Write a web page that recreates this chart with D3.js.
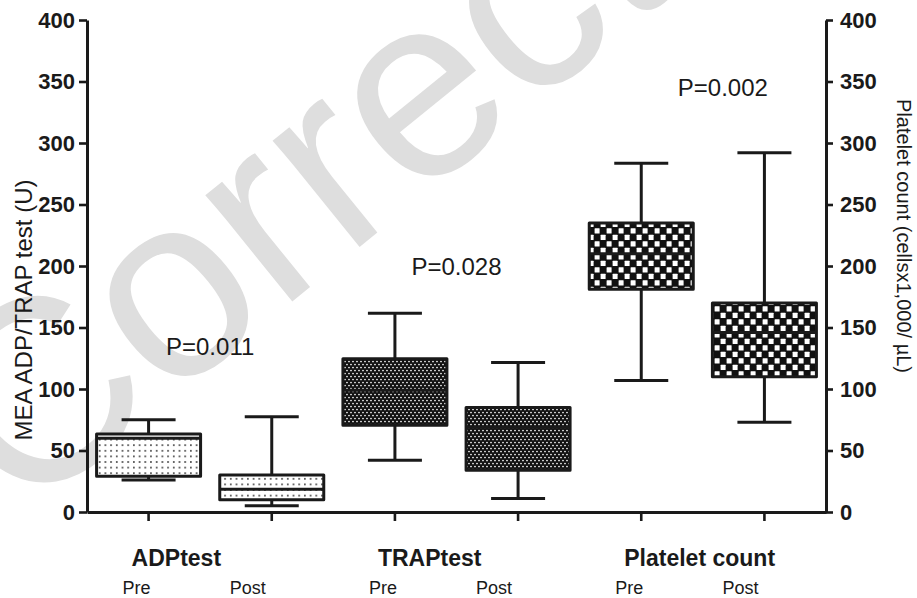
<!DOCTYPE html>
<html><head><meta charset="utf-8">
<script src="https://cdn.jsdelivr.net/npm/d3@7"></script>
<style>body{margin:0;background:#fff}</style>
</head><body><svg id="chart" width="917" height="598"></svg>
<script>
// ---- data ----
const groups = ["ADPtest", "TRAPtest", "Platelet count"];
const phases = ["Pre", "Post"];
const boxKeys = ["ADP-Pre", "ADP-Post", "TRAP-Pre", "TRAP-Post", "PLT-Pre", "PLT-Post"];
const whiskerLow  = [26, 5, 42, 11, 107, 73];
const q1          = [29, 10, 70.5, 34, 181, 110];
const median      = [60, 18.5, 99, 69, 210, 146];
const q3          = [63.5, 30, 124.5, 85, 235, 170];
const whiskerHigh = [75, 77.5, 161.5, 121.5, 283.5, 292];
const boxAxis     = ["left", "left", "left", "left", "right", "right"];
const fillKinds   = ["dots", "dots", "speckle", "speckle", "checker", "checker"];
const yTickValues = [0, 50, 100, 150, 200, 250, 300, 350, 400];
const pLabels = ["P=0.011", "P=0.028", "P=0.002"];
const pLabelValue = [128, 193, 338];
const leftTitle = "MEA ADP/TRAP test (U)";
const rightTitle = "Platelet count (cellsx1,000/ \u00b5L)";

// ---- layout ----
const W = 917, H = 598;
const plotLeft = 87, plotRight = 826, plotTop = 20, plotBottom = 512;
const pLabelDx = [0, 0, 20];
const svg = d3.select("#chart");
svg.append("rect").attr("width", W).attr("height", H).attr("fill", "#fff");

// watermark
svg.append("text")
  .attr("transform", "translate(20,522) rotate(-39)")
  .attr("font-family", "Liberation Sans, Arial, sans-serif")
  .attr("font-size", 260)
  .attr("fill", "#dedede")
  .text("Corrected");

const defs = svg.append("defs");
// dots pattern
const pd = defs.append("pattern").attr("id", "dots").attr("patternUnits", "userSpaceOnUse")
  .attr("width", 5.7).attr("height", 5.6);
pd.append("rect").attr("width", 5.7).attr("height", 5.6).attr("fill", "#fff");
pd.append("circle").attr("cx", 2.8).attr("cy", 2.8).attr("r", 0.85).attr("fill", "#222");
// speckle pattern (dense dark with white dots)
const ps = defs.append("pattern").attr("id", "speckle").attr("patternUnits", "userSpaceOnUse")
  .attr("width", 4).attr("height", 6);
ps.append("rect").attr("width", 4).attr("height", 6).attr("fill", "#111");
ps.append("circle").attr("cx", 1).attr("cy", 1.5).attr("r", 0.85).attr("fill", "#fff");
ps.append("circle").attr("cx", 3).attr("cy", 4.5).attr("r", 0.85).attr("fill", "#fff");
// checker pattern
const pc = defs.append("pattern").attr("id", "checker").attr("patternUnits", "userSpaceOnUse")
  .attr("width", 12).attr("height", 13);
pc.append("rect").attr("width", 12).attr("height", 13).attr("fill", "#111");
pc.append("rect").attr("x", 0.6).attr("y", 0.7).attr("width", 5).attr("height", 5.2).attr("rx", 0.5).attr("fill", "#fff");
pc.append("rect").attr("x", 6.6).attr("y", 7.2).attr("width", 5).attr("height", 5.2).attr("rx", 0.5).attr("fill", "#fff");

// ---- scales ----
const x = d3.scaleBand().domain(boxKeys).range([plotLeft, plotRight]).padding(0);
const yL = d3.scaleLinear().domain([0, 400]).range([plotBottom, plotTop]);
const yR = d3.scaleLinear().domain([0, 400]).range([plotBottom, plotTop]);
const cx = k => x(k) + x.bandwidth() / 2;

// ---- axes ----
const axisFont = "Liberation Sans, Arial, Helvetica, sans-serif";
function styleAxis(g) {
  g.select(".domain").attr("stroke", "#1a1a1a").attr("stroke-width", 3);
  g.selectAll(".tick line").attr("stroke", "#1a1a1a").attr("stroke-width", 2.6);
  g.selectAll(".tick text").attr("font-family", axisFont).attr("font-weight", "bold")
    .attr("font-size", 22).attr("fill", "#1a1a1a");
}
svg.append("g").attr("transform", `translate(${plotLeft},0)`)
  .call(d3.axisLeft(yL).tickValues(yTickValues).tickSize(8).tickSizeOuter(0).tickPadding(4))
  .call(styleAxis);
svg.append("g").attr("transform", `translate(${plotRight},0)`)
  .call(d3.axisRight(yR).tickValues(yTickValues).tickSize(7).tickSizeOuter(0).tickPadding(7))
  .call(styleAxis);
svg.append("g").attr("transform", `translate(0,${plotBottom})`)
  .call(d3.axisBottom(x).tickSize(9).tickSizeOuter(0).tickFormat(""))
  .call(styleAxis);

// ---- boxes ----
const boxes = boxKeys.map((k, i) => ({
  key: k, lo: whiskerLow[i], q1: q1[i], med: median[i], q3: q3[i], hi: whiskerHigh[i],
  y: boxAxis[i] === "left" ? yL : yR, fill: fillKinds[i]
}));
const boxHalf = 52, capHalf = 27;
const bg = svg.append("g").attr("stroke", "#1a1a1a").attr("stroke-width", 3);
const b = bg.selectAll("g.box").data(boxes).join("g").attr("class", "box");
b.append("line").attr("x1", d => cx(d.key)).attr("x2", d => cx(d.key))
  .attr("y1", d => d.y(d.hi)).attr("y2", d => d.y(d.q3));
b.append("line").attr("x1", d => cx(d.key)).attr("x2", d => cx(d.key))
  .attr("y1", d => d.y(d.q1)).attr("y2", d => d.y(d.lo));
b.append("line").attr("x1", d => cx(d.key) - capHalf).attr("x2", d => cx(d.key) + capHalf)
  .attr("y1", d => d.y(d.hi)).attr("y2", d => d.y(d.hi));
b.append("line").attr("x1", d => cx(d.key) - capHalf).attr("x2", d => cx(d.key) + capHalf)
  .attr("y1", d => d.y(d.lo)).attr("y2", d => d.y(d.lo));
b.append("rect").attr("x", d => cx(d.key) - boxHalf).attr("width", boxHalf * 2)
  .attr("y", d => d.y(d.q3)).attr("height", d => d.y(d.q1) - d.y(d.q3))
  .attr("fill", d => `url(#${d.fill})`).attr("stroke-linejoin", "round");
b.append("line").attr("x1", d => cx(d.key) - boxHalf).attr("x2", d => cx(d.key) + boxHalf)
  .attr("y1", d => d.y(d.med)).attr("y2", d => d.y(d.med));

// ---- p-value labels ----
svg.selectAll("text.p").data(pLabels).join("text").attr("class", "p")
  .attr("x", (d, i) => (cx(boxKeys[2 * i]) + cx(boxKeys[2 * i + 1])) / 2 + pLabelDx[i])
  .attr("y", (d, i) => yL(pLabelValue[i]))
  .attr("text-anchor", "middle").attr("font-family", axisFont).attr("font-size", 24)
  .attr("fill", "#1a1a1a").text(d => d);

// ---- group & phase labels ----
svg.selectAll("text.grp").data(groups).join("text").attr("class", "grp")
  .attr("x", (d, i) => cx(boxKeys[2 * i]) - 17)
  .attr("y", 566)
  .attr("text-anchor", "start").attr("font-family", axisFont).attr("font-weight", "bold")
  .attr("font-size", 23).attr("fill", "#1a1a1a").text(d => d);
svg.selectAll("text.ph").data(boxKeys).join("text").attr("class", "ph")
  .attr("x", (d, i) => cx(d) + (i % 2 === 0 ? -12 : -24))
  .attr("y", 594)
  .attr("text-anchor", "middle").attr("font-family", axisFont)
  .attr("font-size", 18).attr("fill", "#1a1a1a").text((d, i) => phases[i % 2]);

// ---- axis titles ----
svg.append("text").attr("transform", `translate(32,${(plotTop + plotBottom) / 2 + 44}) rotate(-90)`)
  .attr("text-anchor", "middle").attr("font-family", axisFont).attr("font-size", 24)
  .attr("fill", "#1a1a1a").text(leftTitle);
svg.append("text").attr("transform", `translate(897,${(plotTop + plotBottom) / 2 - 30}) rotate(90)`)
  .attr("text-anchor", "middle").attr("font-family", axisFont).attr("font-size", 20)
  .attr("fill", "#1a1a1a").text(rightTitle);
</script></body></html>
